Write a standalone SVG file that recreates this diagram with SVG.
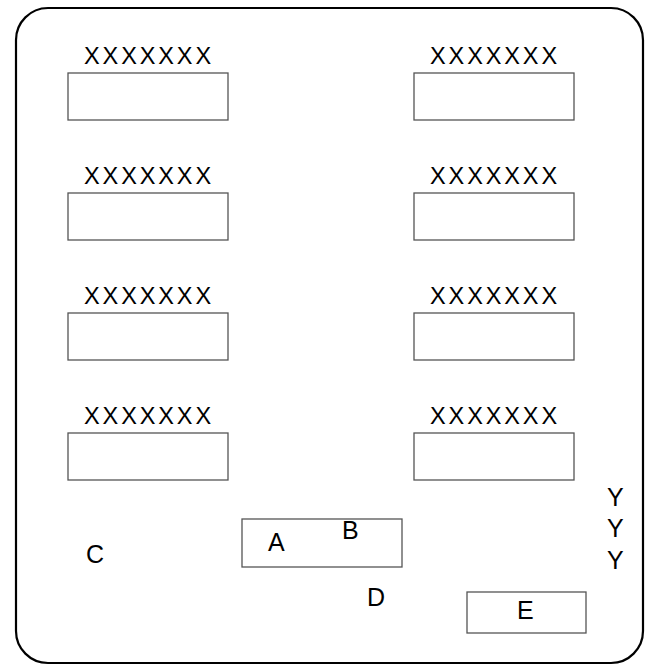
<svg xmlns="http://www.w3.org/2000/svg" width="648" height="666" viewBox="0 0 648 666">
<style>
.box{fill:#fff;stroke:#555;stroke-width:1.3}
.lbl{font-family:"Liberation Sans",Arial,sans-serif;font-size:23.5px;letter-spacing:2.9px;fill:#000}
.t{font-family:"Liberation Sans",Arial,sans-serif;font-size:25px;fill:#000}
</style>
<rect x="0" y="0" width="648" height="666" fill="#fff"/>
<rect id="frame" x="16" y="8" width="627" height="655" rx="32" ry="32" fill="none" stroke="#000" stroke-width="2.2"/>
<g id="n1"><text class="lbl" x="84" y="64">XXXXXXX</text><rect class="box" x="68" y="73" width="160" height="47"/></g>
<g id="n2"><text class="lbl" x="430" y="64">XXXXXXX</text><rect class="box" x="414" y="73" width="160" height="47"/></g>
<g id="n3"><text class="lbl" x="84" y="184">XXXXXXX</text><rect class="box" x="68" y="193" width="160" height="47"/></g>
<g id="n4"><text class="lbl" x="430" y="184">XXXXXXX</text><rect class="box" x="414" y="193" width="160" height="47"/></g>
<g id="n5"><text class="lbl" x="84" y="304">XXXXXXX</text><rect class="box" x="68" y="313" width="160" height="47"/></g>
<g id="n6"><text class="lbl" x="430" y="304">XXXXXXX</text><rect class="box" x="414" y="313" width="160" height="47"/></g>
<g id="n7"><text class="lbl" x="84" y="424">XXXXXXX</text><rect class="box" x="68" y="433" width="160" height="47"/></g>
<g id="n8"><text class="lbl" x="430" y="424">XXXXXXX</text><rect class="box" x="414" y="433" width="160" height="47"/></g>
<g id="nAB"><rect class="box" x="242" y="519" width="160" height="48"/><text class="t" x="268" y="551">A</text><text class="t" x="342" y="539">B</text></g>
<g id="nC"><text class="t" x="86" y="563">C</text></g>
<g id="nD"><text class="t" x="367" y="606">D</text></g>
<g id="nE"><rect class="box" x="467" y="592" width="119" height="41"/><text class="t" x="517" y="619">E</text></g>
<g id="nY"><text class="t" x="607" y="506">Y</text><text class="t" x="607" y="537">Y</text><text class="t" x="607" y="569">Y</text></g>
<g id="connectors"></g>
</svg>
